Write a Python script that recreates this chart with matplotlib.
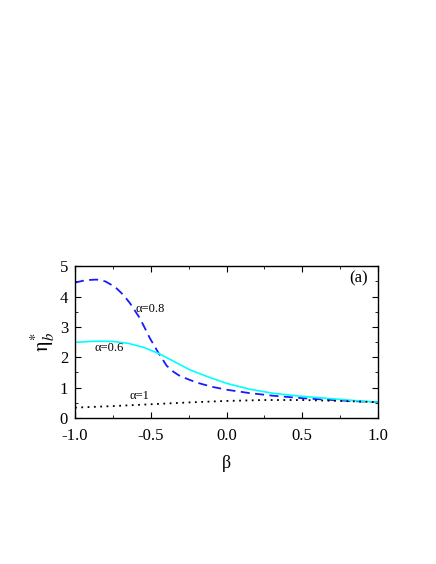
import numpy as np
import matplotlib
matplotlib.use('Agg')
import matplotlib.pyplot as plt
from matplotlib.ticker import MultipleLocator, FormatStrFormatter

plt.rcParams['font.family'] = ['Liberation Serif', 'DejaVu Serif']
plt.rcParams['mathtext.fontset'] = 'stix'

# values
beta_08 = [-1.0, -0.93, -0.857, -0.8, -0.736, -0.68, -0.637, -0.571, -0.505, -0.45, -0.395, -0.35, -0.307, -0.2, -0.1, 0.0, 0.15, 0.31, 0.5, 0.7, 0.85, 1.0]
eta_08 = [4.46, 4.54, 4.56, 4.5, 4.32, 4.05, 3.78, 3.28, 2.62, 2.15, 1.72, 1.52, 1.38, 1.17, 1.03, 0.93, 0.82, 0.73, 0.65, 0.59, 0.55, 0.52]

beta_06 = [-1.0, -0.9, -0.835, -0.75, -0.65, -0.55, -0.45, -0.35, -0.24, -0.12, 0.0, 0.15, 0.31, 0.5, 0.7, 0.85, 1.0]
eta_06 = [2.49, 2.52, 2.53, 2.52, 2.46, 2.33, 2.13, 1.87, 1.58, 1.35, 1.14, 0.95, 0.81, 0.71, 0.63, 0.57, 0.52]

beta_1 = [-1.0, -0.75, -0.5, -0.25, 0.0, 0.25, 0.5, 0.75, 1.0]
eta_1 = [0.34, 0.39, 0.45, 0.51, 0.56, 0.59, 0.59, 0.56, 0.52]

fig = plt.figure(figsize=(4.36, 5.64), dpi=100)
ax = fig.add_axes([0.172, 0.259, 0.695, 0.269])

ax.plot(beta_08, eta_08, color='#1a1aff', linestyle=(0, (5, 3)), linewidth=1.3)
ax.plot(beta_06, eta_06, color='#00ffff', linestyle='-', linewidth=1.2)
ax.plot(beta_1, eta_1, color='black', linestyle=(0, (1, 2.5)), linewidth=1.3)

ax.text(-0.6, 3.6, 'α=0.8', fontsize=9, va='center')
ax.text(-0.87, 2.3, 'α=0.6', fontsize=9, va='center')
ax.text(-0.64, 0.73, 'α=1', fontsize=9, va='center')
ax.text(0.93, 4.6, '(a)', fontsize=12, ha='right', va='center')

ax.set_xlim(-1, 1)
ax.set_ylim(0, 5)
ax.xaxis.set_major_locator(MultipleLocator(0.5))
ax.xaxis.set_minor_locator(MultipleLocator(0.25))
ax.yaxis.set_major_locator(MultipleLocator(1))
ax.yaxis.set_minor_locator(MultipleLocator(0.5))
ax.xaxis.set_major_formatter(FormatStrFormatter('%.1f'))
ax.tick_params(which='both', direction='in', top=True, right=True, labelsize=12)
ax.tick_params(which='major', length=4)
ax.tick_params(which='minor', length=2.5)
ax.tick_params(axis='x', pad=7)
ax.tick_params(axis='y', pad=5)
for s in ax.spines.values():
    s.set_linewidth(1.0)

ax.set_xlabel('β', fontsize=13, labelpad=8)
ax.set_ylabel(r'$\mathrm{\eta}^{*}_{b}$', fontsize=15, labelpad=2)

fig.savefig('out.png', dpi=100)
